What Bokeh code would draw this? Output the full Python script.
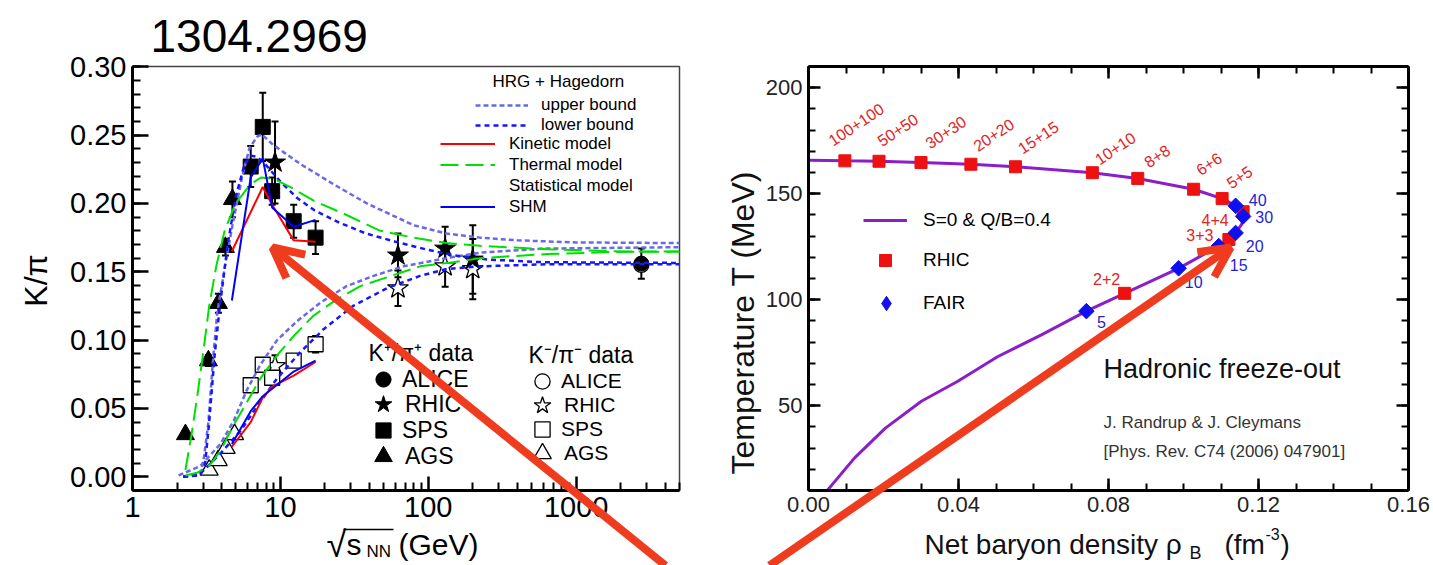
import math
from bokeh.plotting import figure
from bokeh.models import (ColumnDataSource, Range1d, FixedTicker, SingleIntervalTicker,
                          PrintfTickFormatter, CustomJSTickFormatter, Label, Legend, LegendItem,
                          Arrow, OpenHead, LinearAxis)
from bokeh.layouts import row, column
from bokeh.embed import file_html
from bokeh.resources import INLINE
from bokeh.core.properties import value

FONT = "Liberation Sans"

# ---------------- Left panel: K/pi vs sqrt(s_NN) ----------------
# K+/pi+ data
ags_kp_x = [2.28, 3.26, 3.81, 4.25, 4.74]
ags_kp_y = [0.031, 0.085, 0.127, 0.168, 0.203]
ags_kp_err = [0.0, 0.004, 0.007, 0.006, 0.013]
sps_kp_x = [6.3, 7.6, 8.8, 12.3, 17.3]
sps_kp_y = [0.227, 0.256, 0.209, 0.187, 0.175]
sps_kp_err = [0.015, 0.025, 0.010, 0.012, 0.012]
rhic_kp_x = [9.2, 62.4, 130, 200]
rhic_kp_y = [0.230, 0.162, 0.167, 0.159]
rhic_kp_err = [0.030, 0.016, 0.016, 0.025]
alice_kp_x = [2760]
alice_kp_y = [0.156]
alice_kp_err = [0.011]
# K-/pi- data
ags_km_x = [3.3, 3.8, 4.3, 4.9]
ags_km_y = [0.005, 0.012, 0.021, 0.031]
sps_km_x = [6.3, 7.6, 8.8, 12.3, 17.3]
sps_km_y = [0.067, 0.082, 0.0725, 0.085, 0.097]
sps_km_err = [0.003, 0.003, 0.003, 0.003, 0.006]
rhic_km_x = [9.2, 62.4, 130, 200]
rhic_km_y = [0.081, 0.138, 0.154, 0.152]
rhic_km_err = [0.008, 0.013, 0.015, 0.022]
alice_km_x = [2760]
alice_km_y = [0.155]

# Models
kin_kp_x = [4.7, 7.6, 8.8, 12.3, 17.3]
kin_kp_y = [0.165, 0.212, 0.199, 0.173, 0.172]
kin_km_x = [4.7, 6.3, 7.6, 8.8, 12.3, 17.3]
kin_km_y = [0.022, 0.040, 0.058, 0.066, 0.074, 0.084]
shm_kp_x = [4.7, 6.3, 7.6, 8.8, 12.3, 17.3]
shm_kp_y = [0.129, 0.219, 0.233, 0.197, 0.183, 0.188]
shm_km_x = [4.7, 6.3, 7.6, 12.3, 17.3]
shm_km_y = [0.024, 0.048, 0.059, 0.077, 0.085]
th_kp_x = [2.28, 2.5, 2.75, 3.0, 3.3, 3.7, 4.2, 4.97, 6.27, 7.4, 8.97, 11.7, 16.8, 26.8, 47.4, 79.5, 133, 224, 636, 1778, 5000]
th_kp_y = [0.005, 0.03, 0.06, 0.09, 0.125, 0.155, 0.18, 0.200, 0.214, 0.219, 0.218, 0.212, 0.202, 0.1925, 0.180, 0.175, 0.171, 0.169, 0.1665, 0.165, 0.1648]
th_km_x = [2.28, 2.74, 3.36, 3.93, 4.84, 5.96, 7.33, 9.51, 12.3, 16.8, 24.2, 34.7, 52.6, 88, 147, 224, 636, 1778, 5000]
th_km_y = [0.001, 0.003, 0.009, 0.019, 0.038, 0.055, 0.072, 0.089, 0.103, 0.118, 0.130, 0.1395, 0.146, 0.154, 0.157, 0.160, 0.163, 0.1645, 0.1648]
up_kp_x = [2.2, 2.9, 3.05, 3.26, 3.5, 3.74, 4.25, 4.82, 5.5, 6.2, 7.0, 7.5, 8.9, 13.6, 22.9, 38.5, 80, 133, 224, 400, 1000, 5000]
up_kp_y = [0.0, 0.003, 0.015, 0.04, 0.085, 0.12, 0.156, 0.188, 0.219, 0.241, 0.249, 0.2505, 0.243, 0.229, 0.214, 0.200, 0.184, 0.178, 0.175, 0.173, 0.1715, 0.171]
lo_kp_x = [2.2, 2.9, 3.1, 3.3, 3.6, 3.9, 4.4, 5.0, 5.7, 6.3, 7.0, 8.0, 10, 13, 17, 25, 38, 60, 100, 150, 250, 600, 5000]
lo_kp_y = [0.0, 0.002, 0.01, 0.04, 0.09, 0.125, 0.17, 0.205, 0.228, 0.235, 0.234, 0.228, 0.216, 0.204, 0.195, 0.186, 0.178, 0.172, 0.166, 0.162, 0.159, 0.157, 0.1565]
up_km_x = [2.05, 2.88, 3.93, 4.84, 5.96, 7.33, 9.5, 13, 18.7, 28, 42.6, 68, 133, 224, 600, 5000]
up_km_y = [0.001, 0.008, 0.024, 0.041, 0.064, 0.082, 0.100, 0.114, 0.1275, 0.1395, 0.147, 0.154, 0.160, 0.164, 0.167, 0.168]
lo_km_x = [2.2, 2.8, 3.93, 5.36, 7.33, 9.5, 13.6, 19.6, 31, 52.6, 88, 133, 224, 636, 5000]
lo_km_y = [0.0, 0.001, 0.017, 0.0335, 0.055, 0.072, 0.091, 0.108, 0.125, 0.138, 0.147, 0.152, 0.154, 0.1555, 0.1555]

# ---------------- Right panel: freeze-out curve ----------------
curve_rho = [0.0050, 0.0123, 0.0205, 0.0301, 0.0397, 0.0504, 0.0621, 0.0741, 0.0843, 0.0987, 0.1094,
             0.1121, 0.1139, 0.1155, 0.1160, 0.1155, 0.1139, 0.1103, 0.1027, 0.0878, 0.0757, 0.0552,
             0.0433, 0.0300, 0.0188, 0.0097, 0.0]
curve_T = [10, 25.4, 39.4, 52.1, 61.4, 73.1, 83.4, 94.6, 103.0, 114.8, 125.3,
           128.4, 131.5, 135.5, 139.3, 142.0, 144.3, 147.7, 152.1, 157.2, 159.9, 162.7,
           163.9, 164.7, 165.3, 165.5, 165.8]
rhic_labels = ["100+100", "50+50", "30+30", "20+20", "15+15", "10+10", "8+8", "6+6", "5+5", "4+4", "3+3", "2+2"]
rhic_rho = [0.0097, 0.0188, 0.0300, 0.0433, 0.0552, 0.0757, 0.0878, 0.1027, 0.1103, 0.1159, 0.1121, 0.0843]
rhic_T = [165.5, 165.3, 164.7, 163.9, 162.7, 159.9, 157.2, 152.1, 147.7, 141.5, 128.4, 103.0]
fair_labels = ["40", "30", "20", "15", "10", "5"]
fair_rho = [0.1139, 0.1159, 0.1139, 0.1094, 0.0987, 0.0741]
fair_T = [144.3, 139.3, 131.5, 125.3, 114.8, 94.6]

# label offsets (pixels, screen: +x right, +y down)
rot_dx = [-15, 0, 6, 4, 4, 4, 8, 4, 6]
rot_dy = [-19, -19, -18, -17, -17, -12, -15, -18, -14]
hor_dx = [-28, -29, -18]
hor_dy = [8, -4, -14]
fair_dx = [22, 21, 19, 20, 15, 15]
fair_dy = [-6, 1, 13, 19, 14, 11]

RED_ARROW = "#f03c1e"
W, H = 1433, 565
L_FRAME = (132, 66, 679, 495)   # left, top, right, bottom (canvas px)
R_FRAME = (808, 62, 1408, 490)
W1 = 720

# =============== LEFT FIGURE ===============
p1 = figure(width=W1, height=H, x_axis_type="log",
            x_range=Range1d(1, 5000), y_range=Range1d(-0.01, 0.3002),
            output_backend="svg", toolbar_location=None,
            min_border_left=L_FRAME[0], min_border_right=W1 - L_FRAME[2],
            min_border_top=L_FRAME[1], min_border_bottom=H - L_FRAME[3])
p1.xgrid.visible = False
p1.ygrid.visible = False
p1.outline_line_color = "#444444"
p1.outline_line_width = 1.5

minor = [m * 10 ** d for d in range(0, 4) for m in range(2, 10) if m * 10 ** d <= 5000]
p1.xaxis.ticker = FixedTicker(ticks=[1, 10, 100, 1000], minor_ticks=minor)
p1.xaxis.formatter = PrintfTickFormatter(format="%d")
p1.yaxis.ticker = SingleIntervalTicker(interval=0.05, num_minor_ticks=5)
p1.yaxis.formatter = PrintfTickFormatter(format="%.2f")
for ax in (p1.xaxis, p1.yaxis):
    ax.axis_line_width = 3
    ax.axis_line_color = "black"
    ax.major_tick_out = 0
    ax.minor_tick_out = 0
    ax.major_tick_line_width = 2.5
    ax.minor_tick_line_width = 2
    ax.major_label_text_font = FONT
    ax.major_label_text_font_size = "29px"
    ax.major_label_text_color = "black"
    ax.major_label_standoff = 6
p1.yaxis.major_tick_in = 16
p1.yaxis.minor_tick_in = 8
p1.xaxis.major_tick_in = 14
p1.xaxis.minor_tick_in = 8


def errbars(p, xs, ys, errs):
    xx = [x for x, e in zip(xs, errs) if e > 0]
    lo = [y - e for y, e in zip(ys, errs) if e > 0]
    hi = [y + e for y, e in zip(ys, errs) if e > 0]
    p.segment(xx, lo, xx, hi, line_color="black", line_width=2)
    p.scatter(xx + xx, lo + hi, marker="dash", size=7, line_color="black", line_width=2)


def mk(p, xs, ys, marker, size, filled):
    return p.scatter(xs, ys, marker=marker, size=size,
                     fill_color="black" if filled else "white",
                     line_color="black", line_width=1.0 if filled else 1.3)


errbars(p1, sps_km_x, sps_km_y, sps_km_err)
errbars(p1, rhic_km_x, rhic_km_y, rhic_km_err)
errbars(p1, ags_kp_x, ags_kp_y, ags_kp_err)
errbars(p1, sps_kp_x, sps_kp_y, sps_kp_err)
errbars(p1, rhic_kp_x, rhic_kp_y, rhic_kp_err)
errbars(p1, alice_kp_x, alice_kp_y, alice_kp_err)

SZ = dict(circle=15, star=22, square=15, triangle=18)
LEG_G = dict(circle=38, star=44, square=38, triangle=44)
r_alice_o = mk(p1, alice_km_x, alice_km_y, "circle", SZ["circle"], False)
r_rhic_o = mk(p1, rhic_km_x, rhic_km_y, "star", SZ["star"], False)
r_sps_o = mk(p1, sps_km_x, sps_km_y, "square", SZ["square"], False)
r_ags_o = mk(p1, ags_km_x, ags_km_y, "triangle", SZ["triangle"], False)
r_alice_f = mk(p1, alice_kp_x, alice_kp_y, "circle", SZ["circle"], True)
r_rhic_f = mk(p1, rhic_kp_x, rhic_kp_y, "star", SZ["star"], True)
r_sps_f = mk(p1, sps_kp_x, sps_kp_y, "square", SZ["square"], True)
r_ags_f = mk(p1, ags_kp_x, ags_kp_y, "triangle", SZ["triangle"], True)

UPC = "#6a6ae6"
LOC = "#1515ff"
r_up = p1.line(up_kp_x, up_kp_y, line_color=UPC, line_width=2.5, line_dash="5 3")
p1.line(up_km_x, up_km_y, line_color=UPC, line_width=2.5, line_dash="5 3")
r_lo = p1.line(lo_kp_x, lo_kp_y, line_color=LOC, line_width=2.5, line_dash="5 4")
p1.line(lo_km_x, lo_km_y, line_color=LOC, line_width=2.5, line_dash="5 4")
r_th = p1.line(th_kp_x, th_kp_y, line_color="#00e000", line_width=2, line_dash="18 7")
p1.line(th_km_x, th_km_y, line_color="#00e000", line_width=2, line_dash="18 7")
r_kin = p1.line(kin_kp_x, kin_kp_y, line_color="#ff0000", line_width=2)
p1.line(kin_km_x, kin_km_y, line_color="#ff0000", line_width=2)
r_shm = p1.line(shm_kp_x, shm_kp_y, line_color="#0000ff", line_width=2)
p1.line(shm_km_x, shm_km_y, line_color="#0000ff", line_width=2)
r_stat = p1.line(x=[], y=[], line_color="#ff00ff", line_width=2, line_dash="18 7")


def mklegend(items, loc, font_size, gw, gh, lh, spacing, standoff):
    return Legend(items=items, location=loc, padding=0, margin=0, spacing=spacing,
                  glyph_width=gw, glyph_height=gh, label_height=lh, label_standoff=standoff,
                  label_text_font=FONT, label_text_font_size=font_size, label_text_color="black",
                  border_line_alpha=0, background_fill_alpha=0)


def fl(fr, X, Y):
    """page px -> frame-relative screen units"""
    return X - fr[0], fr[3] - Y


p1.add_layout(mklegend([LegendItem(label="upper bound", renderers=[r_up]),
                        LegendItem(label="lower bound", renderers=[r_lo])],
                       (343, 355), "17px", 53, 20, 20, 0, 13))
p1.add_layout(mklegend([LegendItem(label="Kinetic model", renderers=[r_kin]),
                        LegendItem(label="Thermal model", renderers=[r_th]),
                        LegendItem(label="Statistical model", renderers=[r_stat]),
                        LegendItem(label="SHM", renderers=[r_shm])],
                       (308, 273), "17px", 55, 21, 21, 0, 14))

# marker legends, one item each (row centre y, marker centre x, text start x)
kp_rows = [("ALICE", r_alice_f, "circle", 379), ("RHIC", r_rhic_f, "star", 404),
           ("SPS", r_sps_f, "square", 430), ("AGS", r_ags_f, "triangle", 456)]
km_rows = [("ALICE", r_alice_o, "circle", 381), ("RHIC", r_rhic_o, "star", 405),
           ("SPS", r_sps_o, "square", 429), ("AGS", r_ags_o, "triangle", 453)]
for rows_, cx, tx, fs in ((kp_rows, 383, 400, "23px"), (km_rows, 542, 559, "21px")):
    for name, rend, mkr, cy in rows_:
        g = LEG_G[mkr]
        left = cx - g / 2
        lx, ly = fl(L_FRAME, left, cy + g / 2)
        p1.add_layout(mklegend([LegendItem(label=name, renderers=[rend])],
                               (lx, ly - 5), fs, g, g, 20, 0, round(tx - (left + g))))


def lab(p, fr, X, Y, text, size, align="left", angle=0.0, color="black", baseline="middle"):
    if fr is None:
        x, y = X, H - Y
    else:
        x, y = fl(fr, X, Y)
    p.add_layout(Label(x=x, y=y, x_units="screen", y_units="screen", text=text,
                       text_font=FONT, text_font_size=size, text_color=color,
                       text_align=align, text_baseline=baseline, angle=angle))


lab(p1, L_FRAME, 492, 86, "HRG + Hagedorn", "17px")
lab(p1, L_FRAME, 368, 357, "K\u207a/\u03c0\u207a data", "23px")
lab(p1, L_FRAME, 528, 359, "K\u207b/\u03c0\u207b data", "23px")

# =============== RIGHT FIGURE ===============
W2 = W - W1
p2 = figure(width=W2, height=H, x_range=Range1d(0, 0.16), y_range=Range1d(10, 210),
            output_backend="svg", toolbar_location=None,
            min_border_left=R_FRAME[0] - W1, min_border_right=W - R_FRAME[2],
            min_border_top=R_FRAME[1], min_border_bottom=H - R_FRAME[3])
p2.xgrid.visible = False
p2.ygrid.visible = False
p2.outline_line_color = None
xt = SingleIntervalTicker(interval=0.04, num_minor_ticks=4)
yt = SingleIntervalTicker(interval=50, num_minor_ticks=5)
p2.xaxis.ticker = xt
p2.yaxis.ticker = yt
p2.xaxis.formatter = PrintfTickFormatter(format="%.2f")
p2.yaxis.formatter = PrintfTickFormatter(format="%d")
blank = CustomJSTickFormatter(code="return ''")
top_ax = LinearAxis(ticker=xt, formatter=blank)
right_ax = LinearAxis(ticker=yt, formatter=blank)
p2.add_layout(top_ax, "above")
p2.add_layout(right_ax, "right")
for ax in (p2.xaxis, p2.yaxis):
    ax.axis_line_width = 3
    ax.axis_line_color = "black"
    ax.major_tick_out = 0
    ax.minor_tick_out = 0
    ax.major_tick_in = 12
    ax.minor_tick_in = 7
    ax.major_tick_line_width = 2.5
    ax.minor_tick_line_width = 2
    ax.major_label_text_font = FONT
    ax.major_label_text_font_size = "22px"
    ax.major_label_text_color = "#222222"
    ax.major_label_standoff = 6
for ax in (top_ax, right_ax):
    ax.major_label_standoff = 0

FAIR_C = "#1010ee"
r_curve = p2.line(curve_rho, curve_T, line_color="#8a1fc8", line_width=3)
r_sq = p2.scatter(rhic_rho, rhic_T, marker="square", size=12, fill_color="#ee1111", line_color="#ee1111")
# diamond-shaped key (hidden below the rotated squares), used for the legend symbol
r_dia_key = p2.scatter(fair_rho, fair_T, marker="diamond", size=10, fill_color=FAIR_C, line_color=FAIR_C)
r_dia = p2.scatter(fair_rho, fair_T, marker="square", angle=math.pi / 4, size=11,
                   fill_color=FAIR_C, line_color=FAIR_C)

rot_src = ColumnDataSource(dict(x=rhic_rho[:9], y=rhic_T[:9], t=rhic_labels[:9], dx=rot_dx, dy=rot_dy))
p2.text(x="x", y="y", text="t", source=rot_src, x_offset="dx", y_offset="dy", angle=0.59,
        text_align="left", text_baseline="middle", text_color="#e02525",
        text_font=value(FONT), text_font_size="16px")
hor_src = ColumnDataSource(dict(x=rhic_rho[9:], y=rhic_T[9:], t=rhic_labels[9:], dx=hor_dx, dy=hor_dy))
p2.text(x="x", y="y", text="t", source=hor_src, x_offset="dx", y_offset="dy",
        text_align="center", text_baseline="middle", text_color="#e02525",
        text_font=value(FONT), text_font_size="16px")
fair_src = ColumnDataSource(dict(x=fair_rho, y=fair_T, t=fair_labels, dx=fair_dx, dy=fair_dy))
p2.text(x="x", y="y", text="t", source=fair_src, x_offset="dx", y_offset="dy",
        text_align="center", text_baseline="middle", text_color="#2525d0",
        text_font=value(FONT), text_font_size="16px")

p2.add_layout(mklegend([LegendItem(label="S=0 & Q/B=0.4", renderers=[r_curve]),
                        LegendItem(label="RHIC", renderers=[r_sq])],
                       (55, 215), "19px", 44, 30, 20, 10, 16))
g_f = 36
fx, fy = fl(R_FRAME, 886 - g_f / 2, 300 + g_f / 2)
p2.add_layout(mklegend([LegendItem(label="FAIR", renderers=[r_dia_key])],
                       (fx, fy - 3), "19px", g_f, g_f, 20, 0, round(923 - (886 + g_f / 2))))

lab(p2, R_FRAME, 1103, 368, "Hadronic freeze-out", "27px", color="#111111")
lab(p2, R_FRAME, 1103, 422, "J. Randrup & J. Cleymans", "17px", color="#333333")
lab(p2, R_FRAME, 1103, 451, "[Phys. Rev. C74 (2006) 047901]", "17px", color="#333333")

# =============== OVERLAY (titles, axis titles, annotation arrows) ===============
p3 = figure(width=W, height=H, x_range=Range1d(0, W), y_range=Range1d(0, H),
            output_backend="svg", toolbar_location=None, min_border=0,
            x_axis_location=None, y_axis_location=None)
p3.background_fill_color = None
p3.border_fill_color = None
p3.outline_line_color = None
p3.grid.visible = False
p3.styles = {"position": "absolute", "left": "0px", "top": "0px"}

lab(p3, None, 150, 35, "1304.2969", "46px")
lab(p3, None, 35, 280, "K/\u03c0", "32px", align="center", angle=math.pi / 2)
lab(p3, None, 326, 544, "\u221a", "36px")
lab(p3, None, 346, 544, "s", "30px")
lab(p3, None, 366, 551, "NN", "17px")
lab(p3, None, 398, 544, "(GeV)", "30px")
p3.add_layout(Arrow(end=None, x_start=343, y_start=H - 529, x_end=393, y_end=H - 529,
                    start_units="screen", end_units="screen", line_width=1.5, line_color="black"))
lab(p3, None, 742, 322, "Temperature T (MeV)", "32px", align="center", angle=math.pi / 2, color="#111111")
lab(p3, None, 924, 544, "Net baryon density \u03c1", "28px", color="#111111")
lab(p3, None, 1189, 552, "B", "18px", color="#111111")
lab(p3, None, 1224, 544, "(fm", "28px", color="#111111")
lab(p3, None, 1265, 533, "-3", "16px", color="#111111")
lab(p3, None, 1280, 544, ")", "28px", color="#111111")

for (xs, ys, xe, ye) in ((665, 565, 272, 247), (769, 565, 1230, 247)):
    p3.add_layout(Arrow(end=OpenHead(size=30, line_width=8, line_color=RED_ARROW),
                        x_start=xs, y_start=H - ys, x_end=xe, y_end=H - ye,
                        start_units="screen", end_units="screen",
                        line_width=8, line_color=RED_ARROW))

layout = column(row(p1, p2), p3)
open("out.html", "w").write(file_html(layout, INLINE))
